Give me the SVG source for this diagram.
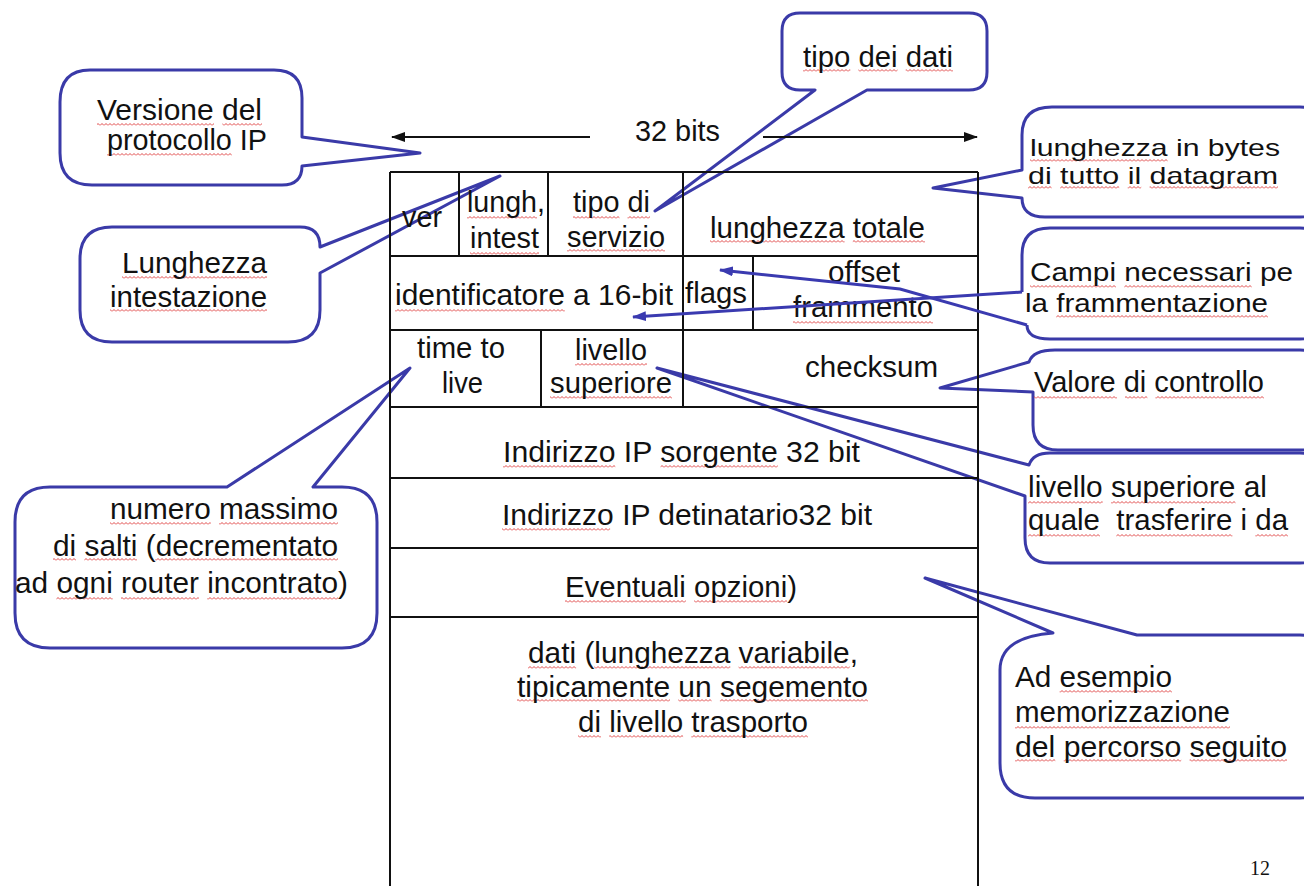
<svg xmlns="http://www.w3.org/2000/svg" width="1304" height="886" viewBox="0 0 1304 886">
<style>
.t{font-family:"Liberation Sans",Arial,sans-serif;font-size:29px;fill:#111}
.k{font-size:30px}
.s24{font-size:24px}
.s26{font-size:26px}
.c{fill:#fff;stroke:#3a3aa8;stroke-width:3;stroke-linejoin:round}
.tb{stroke:#111;stroke-width:2;fill:none}
.ar{stroke:#111;stroke-width:2;fill:none}
.br{stroke:#3a3ab0;stroke-width:3;fill:none}
.sq{fill:url(#wave)}
.pg{font-family:"Liberation Serif","Times New Roman",serif;font-size:20px;fill:#111}
</style>
<defs>
<pattern id="wave" patternUnits="userSpaceOnUse" x="0" y="0" width="4" height="3"><path d="M0,2.5 L2,0.5 L4,2.5" fill="none" stroke="#e04848" stroke-width="1"/></pattern>
<marker id="ak" markerUnits="userSpaceOnUse" markerWidth="14" markerHeight="10" refX="13" refY="5" orient="auto"><path d="M0,0 L14,5 L0,10 Z" fill="#111"/></marker>
<marker id="ab" markerUnits="userSpaceOnUse" markerWidth="14" markerHeight="10" refX="13" refY="5" orient="auto"><path d="M0,0 L14,5 L0,10 Z" fill="#3a3ab0"/></marker>
</defs>
<rect width="1304" height="886" fill="#fff"/>

<g id="callout-versione">
<path class="c" d="M 90,70 H 274 Q 302,70 302,98 V 137 L 420,153 L 302,166 Q 302,185 282,185 H 92 Q 60,185 60,153 V 102 Q 60,70 90,70 Z"/>
<g class="sq"><rect x="97" y="123" width="117" height="3"/><rect x="222.4" y="123" width="39.6" height="3"/><rect x="107" y="153" width="124.8" height="3"/></g>
<text class="t k" x="97" y="120" textLength="165" lengthAdjust="spacingAndGlyphs">Versione del</text>
<text class="t k" x="107" y="150" textLength="160" lengthAdjust="spacingAndGlyphs">protocollo IP</text>
</g>
<g id="callout-lunghezza-intestazione">
<path class="c" d="M 112,227 H 300 Q 320,227 320,247 L 500,176 L 320,273 V 310 Q 320,342 288,342 H 112 Q 80,342 80,310 V 259 Q 80,227 112,227 Z"/>
<g class="sq"><rect x="122" y="276" width="145" height="3"/><rect x="110" y="309" width="157" height="3"/></g>
<text class="t k" x="122" y="273" textLength="145" lengthAdjust="spacingAndGlyphs">Lunghezza</text>
<text class="t k" x="110" y="307" textLength="157" lengthAdjust="spacingAndGlyphs">intestazione</text>
</g>
<g id="callout-tipo-dati">
<path class="c" d="M 800,13 H 969 Q 987,13 987,31 V 72 Q 987,90 969,90 H 867 L 655,211 L 815,90 H 800 Q 782,90 782,72 V 31 Q 782,13 800,13 Z"/>
<g class="sq"><rect x="803" y="69" width="47.3" height="3"/><rect x="858.4" y="69" width="39.1" height="3"/><rect x="905.7" y="69" width="47.3" height="3"/></g>
<text class="t k" x="803" y="67" textLength="150" lengthAdjust="spacingAndGlyphs">tipo dei dati</text>
</g>
<g id="callout-lunghezza-bytes">
<path class="c" d="M 1052,107 H 1300 Q 1330,107 1330,137 V 187 Q 1330,217 1300,217 H 1045 Q 1022,217 1022,198 L 933,188 L 1022,170 V 135 Q 1022,107 1052,107 Z"/>
<g class="sq"><rect x="1030" y="159" width="137.6" height="3"/><rect x="1028" y="186" width="23.6" height="3"/><rect x="1060.1" y="186" width="59.1" height="3"/><rect x="1127.7" y="186" width="13.5" height="3"/><rect x="1149.6" y="186" width="128.4" height="3"/></g>
<text class="t s24" x="1030" y="156" textLength="250" lengthAdjust="spacingAndGlyphs">lunghezza in bytes</text>
<text class="t s24" x="1028" y="184" textLength="250" lengthAdjust="spacingAndGlyphs">di tutto il datagram</text>
</g>
<g id="callout-campi">
<path class="c" d="M 1027,325 Q 1027,339 1050,339 H 1300 Q 1330,339 1330,309 V 258 Q 1330,228 1300,228 H 1050 Q 1022,228 1022,255 V 292"/>
<g class="sq"><rect x="1030" y="285" width="86" height="3"/><rect x="1124.3" y="285" width="127.4" height="3"/><rect x="1056.2" y="315" width="211.8" height="3"/></g>
<text class="t s26" x="1030" y="281" textLength="263" lengthAdjust="spacingAndGlyphs">Campi necessari pe</text>
<text class="t s26" x="1025" y="312" textLength="243" lengthAdjust="spacingAndGlyphs">la frammentazione</text>
</g>
<g id="callout-valore">
<path class="c" d="M 1055,350 H 1300 Q 1330,350 1330,380 V 420 Q 1330,450 1300,450 H 1058 Q 1033,450 1033,425 V 392 L 940,388 L 1029,362 Q 1033,350 1055,350 Z"/>
<g class="sq"><rect x="1034" y="396" width="83" height="3"/><rect x="1125" y="396" width="22.4" height="3"/><rect x="1155.4" y="396" width="108.6" height="3"/></g>
<text class="t k" x="1034" y="392" textLength="230" lengthAdjust="spacingAndGlyphs">Valore di controllo</text>
</g>
<g id="callout-livello">
<path class="c" d="M 1050,453 H 1300 Q 1330,453 1330,483 V 533 Q 1330,563 1300,563 H 1050 Q 1025,563 1025,538 V 496 L 657,368 L 1029,465 Q 1033,453 1050,453 Z"/>
<g class="sq"><rect x="1028" y="501" width="74.7" height="3"/><rect x="1111" y="501" width="124.5" height="3"/><rect x="1028" y="534" width="72" height="3"/><rect x="1116.3" y="534" width="116.1" height="3"/><rect x="1255.3" y="534" width="32.7" height="3"/></g>
<text class="t k" x="1028" y="497" textLength="239" lengthAdjust="spacingAndGlyphs">livello superiore al</text>
<text class="t k" x="1028" y="530" textLength="260" lengthAdjust="spacingAndGlyphs">quale&#160; trasferire i da</text>
</g>
<g id="callout-esempio">
<path class="c" d="M 1137,635 H 1300 Q 1330,635 1330,665 V 768 Q 1330,798 1300,798 H 1035 Q 1000,798 1000,763 V 670 Q 1000,637 1053,633 L 925,578 Z"/>
<g class="sq"><rect x="1059.6" y="690" width="112.4" height="3"/><rect x="1015" y="726" width="215" height="3"/><rect x="1015" y="759" width="40.3" height="3"/><rect x="1063.7" y="759" width="117.5" height="3"/><rect x="1189.6" y="759" width="97.4" height="3"/></g>
<text class="t k" x="1015" y="687" textLength="157" lengthAdjust="spacingAndGlyphs">Ad esempio</text>
<text class="t k" x="1015" y="722" textLength="215" lengthAdjust="spacingAndGlyphs">memorizzazione</text>
<text class="t k" x="1015" y="757" textLength="272" lengthAdjust="spacingAndGlyphs">del percorso seguito</text>
</g>
<g id="callout-ttl">
<path class="c" d="M 50,487 H 227 L 410,368 L 313,487 H 342 Q 377,487 377,522 V 613 Q 377,648 342,648 H 50 Q 15,648 15,613 V 522 Q 15,487 50,487 Z"/>
<g class="sq"><rect x="110" y="522" width="100.8" height="3"/><rect x="219" y="522" width="119" height="3"/><rect x="53" y="558" width="23" height="3"/><rect x="84.3" y="558" width="52.7" height="3"/><rect x="155.2" y="558" width="182.8" height="3"/><rect x="56.4" y="597" width="56.3" height="3"/><rect x="121" y="597" width="77.9" height="3"/><rect x="207.2" y="597" width="130.9" height="3"/></g>
<text class="t k" x="110" y="519" textLength="228" lengthAdjust="spacingAndGlyphs">numero massimo</text>
<text class="t k" x="53" y="556" textLength="285" lengthAdjust="spacingAndGlyphs">di salti (decrementato</text>
<text class="t k" x="15" y="593" textLength="333" lengthAdjust="spacingAndGlyphs">ad ogni router incontrato)</text>
</g>

<g id="datagram-table">
<path class="tb" d="M390,172 V890 M978,172 V890 M390,172 H978 M390,256 H978 M390,330 H978 M390,407 H978 M390,478 H978 M390,548 H978 M390,617 H978 M459,172 V256 M548,172 V256 M683,172 V256 M683,256 V330 M753,256 V330 M541,330 V407 M683,330 V407"/>
<g class="sq">
<rect x="467" y="216" width="70" height="3"/><rect x="470" y="252" width="69" height="3"/>
<rect x="573" y="216" width="46.5" height="3"/><rect x="627.5" y="216" width="22.5" height="3"/><rect x="567" y="249" width="98" height="3"/>
<rect x="710" y="240" width="134.6" height="3"/><rect x="852.8" y="240" width="72.2" height="3"/>
<rect x="395" y="309" width="169.8" height="3"/><rect x="793" y="321" width="140" height="3"/>
<rect x="575" y="363" width="72" height="3"/><rect x="550" y="396" width="122" height="3"/>
<rect x="503" y="465" width="112.3" height="3"/><rect x="660.5" y="465" width="117.3" height="3"/>
<rect x="502" y="528" width="108.1" height="3"/>
<rect x="565" y="600" width="120.9" height="3"/><rect x="694.1" y="600" width="93.1" height="3"/>
<rect x="528" y="666" width="48.1" height="3"/><rect x="594.3" y="666" width="136" height="3"/><rect x="738.6" y="666" width="111.1" height="3"/>
<rect x="517" y="699" width="153" height="3"/><rect x="678.3" y="699" width="33.3" height="3"/><rect x="719.9" y="699" width="148.1" height="3"/>
<rect x="578" y="735" width="23" height="3"/><rect x="609.2" y="735" width="73.9" height="3"/><rect x="691.3" y="735" width="116.7" height="3"/>
</g>
<text class="t" x="635" y="141" textLength="85" lengthAdjust="spacingAndGlyphs">32 bits</text>
<text class="t" x="402" y="227" textLength="40" lengthAdjust="spacingAndGlyphs">ver</text>
<text class="t" x="467" y="212" textLength="78" lengthAdjust="spacingAndGlyphs">lungh,</text>
<text class="t" x="470" y="248" textLength="69" lengthAdjust="spacingAndGlyphs">intest</text>
<text class="t" x="573" y="212" textLength="77" lengthAdjust="spacingAndGlyphs">tipo di</text>
<text class="t" x="567" y="247" textLength="98" lengthAdjust="spacingAndGlyphs">servizio</text>
<text class="t" x="710" y="238" textLength="215" lengthAdjust="spacingAndGlyphs">lunghezza totale</text>
<text class="t" x="395" y="305" textLength="278" lengthAdjust="spacingAndGlyphs">identificatore a 16-bit</text>
<text class="t" x="685" y="303" textLength="62" lengthAdjust="spacingAndGlyphs">flags</text>
<text class="t" x="828" y="282" textLength="72" lengthAdjust="spacingAndGlyphs">offset</text>
<text class="t" x="793" y="317" textLength="140" lengthAdjust="spacingAndGlyphs">frammento</text>
<text class="t" x="417" y="358" textLength="88" lengthAdjust="spacingAndGlyphs">time to</text>
<text class="t" x="442" y="393" textLength="41" lengthAdjust="spacingAndGlyphs">live</text>
<text class="t" x="575" y="360" textLength="72" lengthAdjust="spacingAndGlyphs">livello</text>
<text class="t" x="550" y="393" textLength="122" lengthAdjust="spacingAndGlyphs">superiore</text>
<text class="t" x="805" y="377" textLength="133" lengthAdjust="spacingAndGlyphs">checksum</text>
<text class="t" x="503" y="462" textLength="357" lengthAdjust="spacingAndGlyphs">Indirizzo IP sorgente 32 bit</text>
<text class="t" x="502" y="525" textLength="370" lengthAdjust="spacingAndGlyphs">Indirizzo IP detinatario32 bit</text>
<text class="t" x="565" y="597" textLength="232" lengthAdjust="spacingAndGlyphs">Eventuali opzioni)</text>
<text class="t" x="528" y="663" textLength="330" lengthAdjust="spacingAndGlyphs">dati (lunghezza variabile,</text>
<text class="t" x="517" y="697" textLength="351" lengthAdjust="spacingAndGlyphs">tipicamente un segemento</text>
<text class="t" x="578" y="732" textLength="230" lengthAdjust="spacingAndGlyphs">di livello trasporto</text>
</g>

<g id="connectors">
<line class="ar" x1="590" y1="137" x2="392" y2="137" marker-end="url(#ak)"/>
<line class="ar" x1="763" y1="137" x2="977" y2="137" marker-end="url(#ak)"/>
<line class="br" x1="1022" y1="292" x2="633" y2="317" marker-end="url(#ab)"/>
<polyline class="br" points="1027,325 900,289 720,270" marker-end="url(#ab)"/>
</g>

<text class="pg" x="1250" y="875">12</text>
</svg>
